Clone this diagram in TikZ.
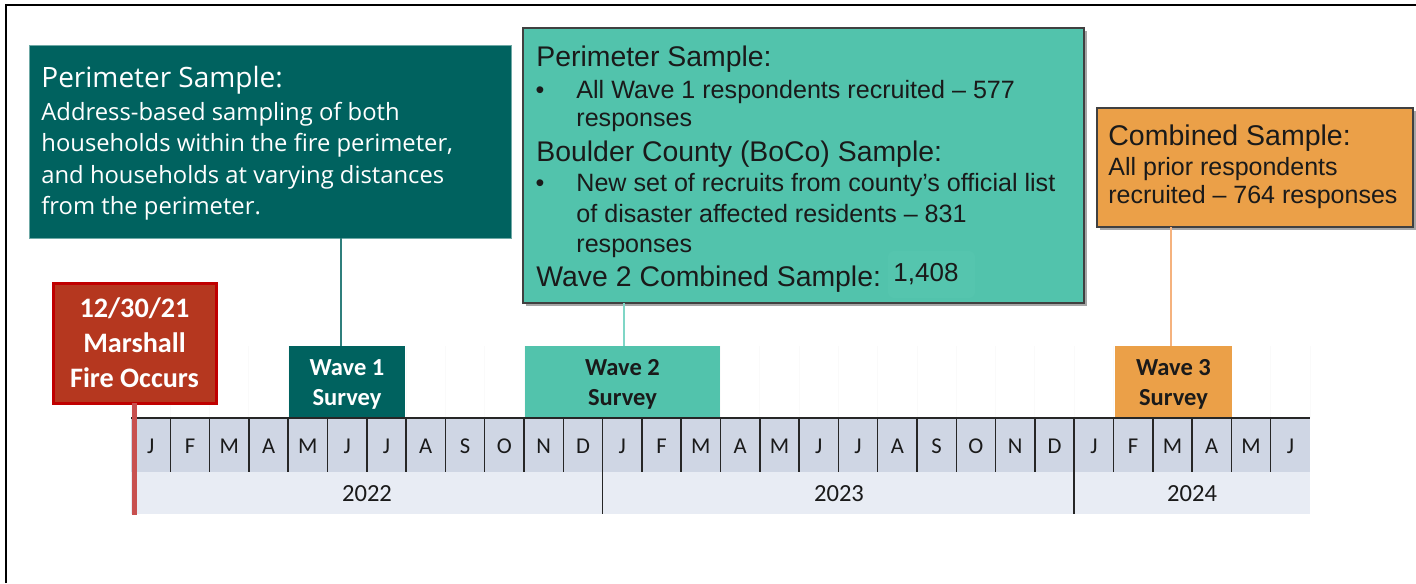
\documentclass[tikz,border=0pt]{standalone}
\usepackage{fontspec}
\setmainfont{Liberation Sans}
\newfontfamily\carl{Carlito}
\newfontfamily\opsans{Open Sans}
\usetikzlibrary{shadows}
\definecolor{tealdark}{HTML}{00625F}
\definecolor{teallight}{HTML}{52C3AC}
\definecolor{orangebox}{HTML}{EBA048}
\definecolor{redfill}{HTML}{B5371F}
\definecolor{redborder}{HTML}{C00000}
\definecolor{redline}{HTML}{C8504F}
\definecolor{monthfill}{HTML}{CFD6E4}
\definecolor{yearfill}{HTML}{E8ECF4}
\definecolor{inkdark}{HTML}{1A1A1A}
\definecolor{griddark}{HTML}{262626}
\definecolor{tlborder}{HTML}{6FA9A6}
\definecolor{conn1}{HTML}{2F7F7C}
\definecolor{conn2}{HTML}{7FD6C6}
\definecolor{conn3}{HTML}{F5B27E}
\definecolor{numbox}{HTML}{55C5AE}
\begin{document}
\begin{tikzpicture}[x=0.5pt,y=-0.5pt,
  boxbase/.style={rectangle, inner sep=0, outer sep=0, anchor=north west},
  tlboxst/.style={boxbase, fill=tealdark, draw=tlborder, line width=0.5pt},
  shadowbox/.style={boxbase, draw=black!75, line width=0.6pt,
     drop shadow={shadow xshift=1.6pt, shadow yshift=-1.6pt, opacity=0.35, fill=black}},
  wavebox/.style={boxbase, draw=none},
  txtw/.style={inner sep=0, anchor=base west},
  txtc/.style={inner sep=0, anchor=base},
  tltitle/.style={txtw, text=white, font=\opsans\fontsize{14}{16}\selectfont},
  tlbody/.style={txtw, text=white, font=\opsans\fontsize{11.9}{14}\selectfont},
  mtitle/.style={txtw, text=inkdark, font=\fontsize{14.2}{17}\selectfont},
  mbody/.style={txtw, text=inkdark, font=\fontsize{12.55}{15}\selectfont},
  rtitle/.style={txtw, text=inkdark, font=\fontsize{14.25}{17}\selectfont},
  rbody/.style={txtw, text=inkdark, font=\fontsize{12.5}{15}\selectfont},
  redtxt/.style={txtc, text=white, font=\carl\bfseries\fontsize{14.1}{17}\selectfont},
  wavetxtw/.style={txtc, text=white, font=\carl\bfseries\fontsize{12.25}{15}\selectfont},
  wavetxtk/.style={txtc, text=inkdark, font=\carl\bfseries\fontsize{12.25}{15}\selectfont},
  monthtxt/.style={txtc, text=inkdark, font=\carl\fontsize{11.3}{13}\selectfont},
  yeartxt/.style={txtc, text=inkdark, font=\carl\fontsize{12.3}{14}\selectfont},
  divider/.style={draw=griddark, line width=0.75pt},
  faintgrid/.style={draw=black!2, line width=0.5pt},
]
\useasboundingbox (0,0) rectangle (1416,583);
\fill[white] (0,0) rectangle (1416,583);

% outer frame (top and left edges only visible)
\draw[line width=1pt, black] (6,583) -- (6,5) -- (1416,5);

% faint grid above timeline
\foreach \i in {0,...,30} {
  \draw[faintgrid] ({131+39.3*\i},346) -- ({131+39.3*\i},418);
}

% timeline rows
\fill[monthfill] (131,418) rectangle (1310,472);
\fill[yearfill] (131,472) rectangle (1310,514);
\coordinate (tlstart) at (131,418);
\coordinate (tlend) at (1310,418);
\coordinate (redbottom) at (134,515);

% wave boxes
\node (w1) [wavebox, fill=tealdark, minimum width=58pt, minimum height=36pt] at (289,346) {};
\node (w2) [wavebox, fill=teallight, minimum width=97.5pt, minimum height=36pt] at (525,346) {};
\node (w3) [wavebox, fill=orangebox, minimum width=58.5pt, minimum height=36pt] at (1115,346) {};
\node (w1a) [wavetxtw] at (347,375.7) {Wave 1};
\node (w1b) [wavetxtw] at (347,405.5) {Survey};
\node (w2a) [wavetxtk] at (622.5,375.7) {Wave 2};
\node (w2b) [wavetxtk] at (622.5,405.5) {Survey};
\node (w3a) [wavetxtk] at (1173.5,375.7) {Wave 3};
\node (w3b) [wavetxtk] at (1173.5,405.5) {Survey};

% timeline lines
\draw[draw=griddark, line width=1pt] (tlstart) -- (tlend);
\foreach \i in {1,...,29} {
  \draw[divider] ({131+39.3*\i},418) -- ++(0,54);
}
\draw[divider] ({131+39.3*12},418) -- ++(0,96);
\draw[divider] ({131+39.3*24},418) -- ++(0,96);

% months
\foreach \m [count=\i from 0] in {J,F,M,A,M,J,J,A,S,O,N,D,J,F,M,A,M,J,J,A,S,O,N,D,J,F,M,A,M,J} {
  \node (m\i) [monthtxt] at ({131+39.3*\i+19.65},453) {\m};
}
% years
\node (y22) [yeartxt] at (367,501.5) {2022};
\node (y23) [yeartxt] at (839,501.5) {2023};
\node (y24) [yeartxt] at (1192,501.5) {2024};

% red event box
\node (redbox) [boxbase, fill=redfill, draw=redborder, line width=1.5pt, minimum width=81.5pt, minimum height=60pt] at (53,283) {};
\draw[draw=redline, line width=2.5pt] (redbox.south) -- (redbox.south |- redbottom);
\node (r1) [redtxt] at (134.5,317.7) {12/30/21};
\node (r2) [redtxt] at (134.5,352.5) {Marshall};
\node (r3) [redtxt] at (134.5,387) {Fire Occurs};

% top-left box
\node (tlbox) [tlboxst, minimum width=241pt, minimum height=96pt] at (29,46) {};
\node (t0) [tltitle] at (41,88) {Perimeter Sample:};
\node (t1) [tlbody] at (41,120) {Address-based sampling of both};
\node (t2) [tlbody] at (41,151.5) {households within the fire perimeter,};
\node (t3) [tlbody] at (41,183) {and households at varying distances};
\node (t4) [tlbody] at (41,214.5) {from the perimeter.};

% middle box
\node (mbox) [shadowbox, fill=teallight, minimum width=280.5pt, minimum height=137.5pt] at (523,28) {};
\node (nb) [boxbase, fill=numbox, rounded corners=3pt, minimum width=43.5pt, minimum height=23.5pt] at (888,251) {};
\node (m0) [mtitle] at (536,66.7) {Perimeter Sample:};
\node (mb1) [mbody, anchor=base] at (540,98.3) {•};
\node (m1) [mbody] at (576,98.3) {All Wave 1 respondents recruited – 577};
\node (m2) [mbody] at (576,126.7) {responses};
\node (m3) [mtitle] at (536,161.7) {Boulder County (BoCo) Sample:};
\node (mb2) [mbody, anchor=base] at (540,191.7) {•};
\node (m4) [mbody] at (576,191.7) {New set of recruits from county’s official list};
\node (m5) [mbody] at (576,222.3) {of disaster affected residents – 831};
\node (m6) [mbody] at (576,252.7) {responses};
\node (m7) [mtitle] at (536,286.7) {Wave 2 Combined Sample:};
\node (m8) [mbody, font=\fontsize{13}{15}\selectfont] at (893,281.5) {1,408};

% right box
\node (rbox) [shadowbox, fill=orangebox, minimum width=158pt, minimum height=59.5pt] at (1097,108) {};
\node (rt0) [rtitle] at (1108,145) {Combined Sample:};
\node (rt1) [rbody] at (1108,175) {All prior respondents};
\node (rt2) [rbody] at (1108,203.5) {recruited – 764 responses};

% connectors
\coordinate (c1) at (341,238);
\coordinate (c2) at (624,303);
\coordinate (c3) at (1171,227);
\draw[draw=conn1, line width=0.75pt] (c1) -- (c1 |- w1.north);
\draw[draw=conn2, line width=0.75pt] (c2) -- (c2 |- w2.north);
\draw[draw=conn3, line width=1pt] (c3) -- (c3 |- w3.north);
\end{tikzpicture}
\end{document}
